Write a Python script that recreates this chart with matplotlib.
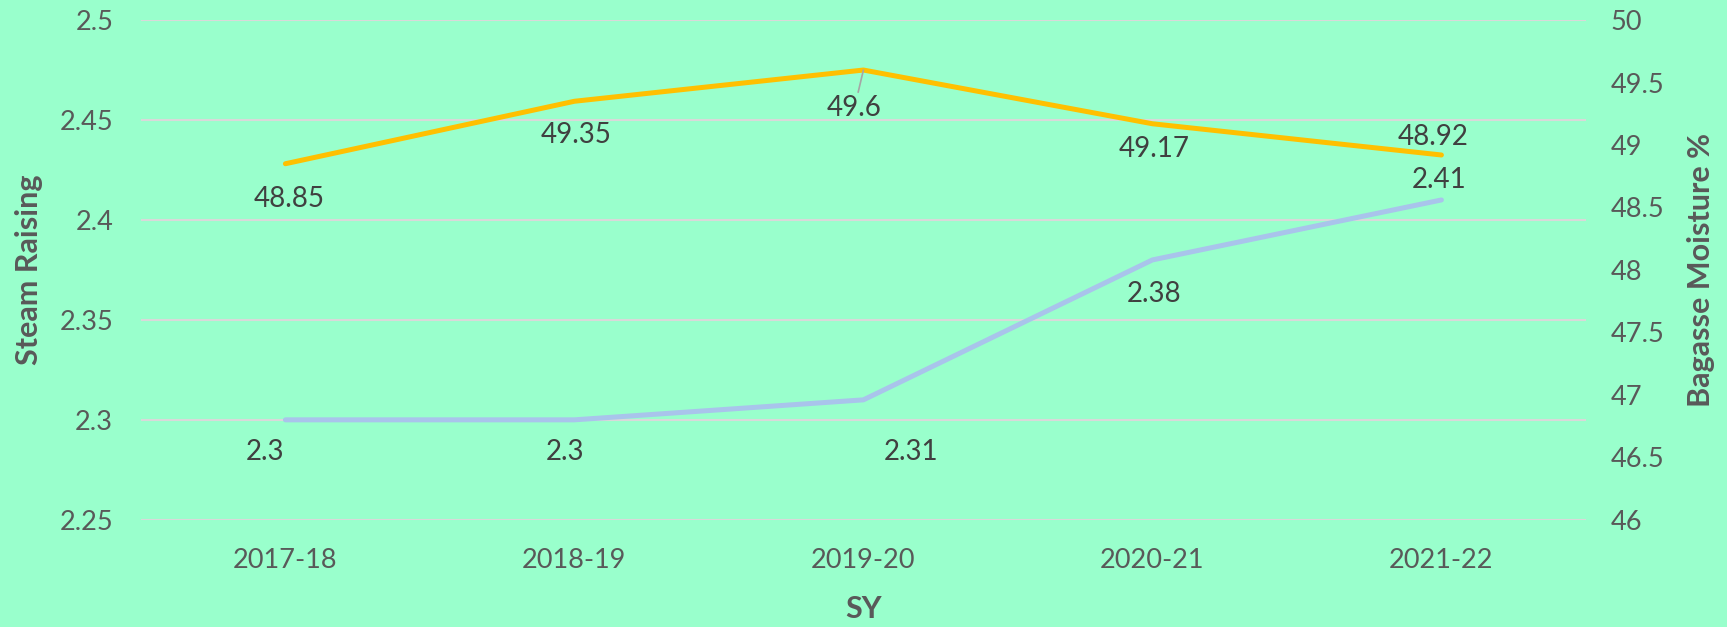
import matplotlib.pyplot as plt

# data
anos = ['2017-18', '2018-19', '2019-20', '2020-21', '2021-22']
steam = [2.3, 2.3, 2.31, 2.38, 2.41]
umidade = [48.85, 49.35, 49.6, 49.17, 48.92]

# label offsets (pixels) as placed in the original
off_steam = [(-20, -32), (-9, -32), (48, -52), (2, -34), (-2, 20)]
off_umid = [(4, -35), (2, -34), (-9, -38), (2, -25), (-8, 18)]

fundo = '#99FFCC'
cinza = '#595959'
plt.rcParams['font.family'] = ['Lato', 'DejaVu Sans']

fig = plt.figure(figsize=(17.27, 6.27), dpi=100, facecolor=fundo)
ax = fig.add_axes([0.0816, 0.171, 0.8367, 0.797])
ax.set_facecolor(fundo)
ax2 = ax.twinx()

x = range(len(anos))
ax.plot(x, steam, color='#A9C4EB', lw=3.6, solid_capstyle='round', zorder=3)
ax2.plot(x, umidade, color='#FFC000', lw=3.6, solid_capstyle='round', zorder=3)

ax.set_xlim(-0.5, len(anos) - 0.5)
ax.set_ylim(2.25, 2.5)
ax.set_yticks([2.25, 2.3, 2.35, 2.4, 2.45, 2.5])
ax.set_yticklabels(['2.25', '2.3', '2.35', '2.4', '2.45', '2.5'])
ax2.set_ylim(46, 50)
ax2.set_yticks([46, 46.5, 47, 47.5, 48, 48.5, 49, 49.5, 50])
ax2.set_yticklabels(['46', '46.5', '47', '47.5', '48', '48.5', '49', '49.5', '50'])

ax.set_xticks(list(x))
ax.set_xticklabels(anos)
ax.grid(axis='y', color='#D9D9D9', lw=1.5)
ax.set_axisbelow(True)

for a in (ax, ax2):
    for s in a.spines.values():
        s.set_visible(False)
    a.tick_params(length=0, labelsize=19.5, labelcolor=cinza)
ax.tick_params(axis='y', pad=20)
ax.tick_params(axis='x', pad=20)
ax2.tick_params(axis='y', pad=18)

ax.set_xlabel('SY', fontsize=22, fontweight='bold', color=cinza, labelpad=16)
ax.set_ylabel('Steam Raising', fontsize=22, fontweight='bold', color=cinza, labelpad=12)
ax2.set_ylabel('Bagasse Moisture %', fontsize=22, fontweight='bold', color=cinza, labelpad=16)

for i, v in enumerate(steam):
    ax.annotate(f'{v:g}', (i, v), xytext=off_steam[i], textcoords='offset pixels',
                ha='center', va='center', fontsize=20, color='#404040')
for i, v in enumerate(umidade):
    props = None
    if i == 2:
        props = dict(arrowstyle='-', color='#A6A6A6', lw=1.2, shrinkA=0, shrinkB=0)
    ax2.annotate(f'{v:g}', (i, v), xytext=off_umid[i], textcoords='offset pixels',
                 ha='center', va='center', fontsize=20, color='#404040',
                 arrowprops=props)

plt.savefig('out.png', dpi=100, facecolor=fundo)
